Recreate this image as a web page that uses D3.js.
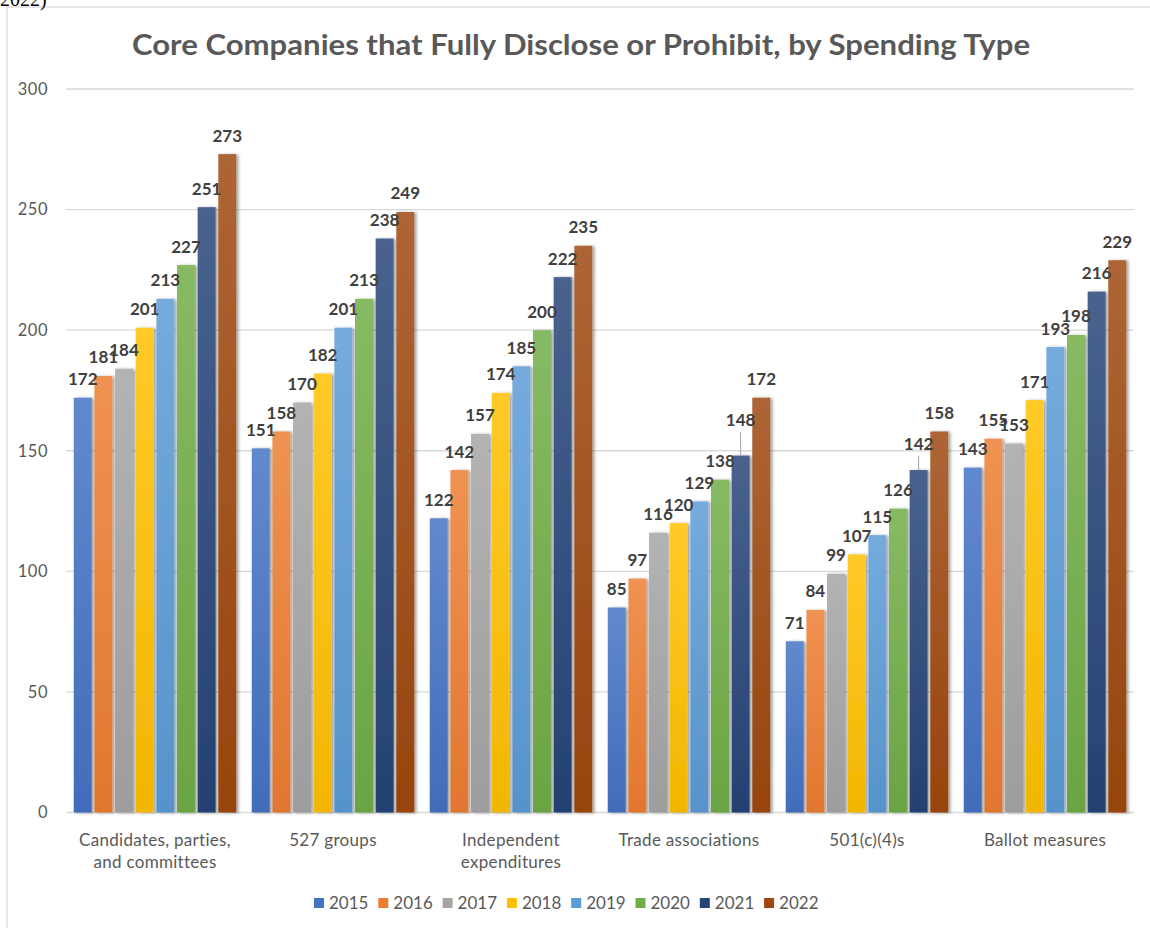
<!DOCTYPE html>
<html>
<head>
<meta charset="utf-8">
<script src="https://cdn.jsdelivr.net/npm/d3@7"></script>
<style>
  html, body { margin: 0; padding: 0; background: #fff; }
  svg { display: block; }
  text { font-family: Lato, "Open Sans", sans-serif; }
</style>
</head>
<body>
<svg id="chart" width="1150" height="928"></svg>
<script>
// Spending types (x-axis groups)
const categories = [
  "Candidates, parties, and committees",
  "527 groups",
  "Independent expenditures",
  "Trade associations",
  "501(c)(4)s",
  "Ballot measures"
];

// Report years (one bar per year within each group)
const years = ["2015", "2016", "2017", "2018", "2019", "2020", "2021", "2022"];

// Companies that fully disclose or prohibit, per year, in category order
const values2015 = [172, 151, 122, 85, 71, 143];
const values2016 = [181, 158, 142, 97, 84, 155];
const values2017 = [184, 170, 157, 116, 99, 153];
const values2018 = [201, 182, 174, 120, 107, 171];
const values2019 = [213, 201, 185, 129, 115, 193];
const values2020 = [227, 213, 200, 138, 126, 198];
const values2021 = [251, 238, 222, 148, 142, 216];
const values2022 = [273, 249, 235, 172, 158, 229];

const yTicks = [0, 50, 100, 150, 200, 250, 300];

const seriesValues = [values2015, values2016, values2017, values2018,
                      values2019, values2020, values2021, values2022];

const colors = ["#4472C4", "#ED7D31", "#A5A5A5", "#FFC000",
                "#5B9BD5", "#70AD47", "#264478", "#9E480E"];

// Labels lifted clear of their neighbours, drawn with a leader line
const labelLift = {
  "Trade associations|2021": 17,
  "501(c)(4)s|2021": 8
};

const svg = d3.select("#chart");
const plot = { left: 66, right: 1134, top: 89, bottom: 812.5 };

// Frame around the chart area
svg.append("rect")
  .attr("x", 7).attr("y", 7).attr("width", 1170).attr("height", 960)
  .attr("fill", "none").attr("stroke", "#d9d9d9").attr("stroke-width", 1.3);

// Caption fragment from the surrounding page
svg.append("text")
  .attr("x", 0).attr("y", 6)
  .style("font-family", "'Liberation Serif', serif")
  .style("font-size", "20px")
  .attr("fill", "#000")
  .text("2022)");

// Gradients and shadow
const defs = svg.append("defs");
colors.forEach((c, i) => {
  const g = defs.append("linearGradient")
    .attr("id", "grad" + i)
    .attr("x1", 0).attr("y1", 0).attr("x2", 0).attr("y2", 1);
  g.append("stop").attr("offset", "0%")
    .attr("stop-color", d3.interpolateRgb(c, "#ffffff")(0.16));
  g.append("stop").attr("offset", "100%")
    .attr("stop-color", d3.interpolateRgb(c, "#000000")(0.05));
});
const shadow = defs.append("filter").attr("id", "shadow")
  .attr("x", "-30%").attr("y", "-10%").attr("width", "170%").attr("height", "120%");
shadow.append("feDropShadow")
  .attr("dx", 2.2).attr("dy", 0.5).attr("stdDeviation", 1.4)
  .attr("flood-color", "#000").attr("flood-opacity", 0.38);

// Scales
const y = d3.scaleLinear().domain([0, 300]).range([plot.bottom, plot.top]);
const x0 = d3.scaleBand().domain(categories).range([plot.left, plot.right]).padding(0);
const groupInset = 7.75;
const x1 = d3.scaleBand().domain(years)
  .range([groupInset, x0.bandwidth() - groupInset])
  .paddingInner(0.13).paddingOuter(0);

// Title
const title = svg.append("text")
  .attr("x", 581).attr("y", 55)
  .attr("text-anchor", "middle")
  .style("font-size", "29px").style("font-weight", 700)
  .attr("fill", "#595959")
  .text("Core Companies that Fully Disclose or Prohibit, by Spending Type");
const tw = title.node().getComputedTextLength();
if (Math.abs(tw - 898) > 4) {
  title.attr("textLength", 898).attr("lengthAdjust", "spacingAndGlyphs");
}

// Gridlines
svg.append("g")
  .selectAll("line")
  .data(yTicks)
  .join("line")
  .attr("x1", plot.left).attr("x2", plot.right)
  .attr("y1", d => y(d)).attr("y2", d => y(d))
  .attr("stroke", "#d9d9d9").attr("stroke-width", 1.4);

// Y axis labels
const yAxis = d3.axisLeft(y).tickValues(yTicks).tickSize(0).tickPadding(0);
const yAxisG = svg.append("g")
  .attr("transform", "translate(48,0)")
  .call(yAxis);
yAxisG.select(".domain").remove();
yAxisG.selectAll("text")
  .style("font-size", "16.5px")
  .style("font-family", "Lato, 'Open Sans', sans-serif")
  .style("letter-spacing", "0.5px")
  .attr("fill", "#595959");

// Bars
const groups = svg.append("g")
  .selectAll("g")
  .data(categories)
  .join("g")
  .attr("transform", d => `translate(${x0(d)},0)`);

const barData = (cat, ci) => years.map((yr, si) => ({
  cat, yr, si, value: seriesValues[si][ci]
}));

groups.selectAll("rect")
  .data((d, ci) => barData(d, ci))
  .join("rect")
  .attr("x", d => x1(d.yr))
  .attr("y", d => y(d.value))
  .attr("width", x1.bandwidth())
  .attr("height", d => y(0) - y(d.value))
  .attr("fill", d => `url(#grad${d.si})`)
  .attr("filter", "url(#shadow)");

// Data labels
const labelGap = 12.5;
groups.each(function (cat, ci) {
  const g = d3.select(this);
  barData(cat, ci).forEach(d => {
    const cx = x1(d.yr) + x1.bandwidth() / 2;
    const top = y(d.value);
    const lift = labelLift[cat + "|" + d.yr] || 0;
    const base = top - labelGap - lift;
    if (lift) {
      g.append("line")
        .attr("x1", cx).attr("x2", cx)
        .attr("y1", base + 6).attr("y2", top)
        .attr("stroke", "#a6a6a6").attr("stroke-width", 1);
    }
    g.append("text")
      .attr("x", cx).attr("y", base)
      .attr("text-anchor", "middle")
      .style("font-size", "17px").style("font-weight", 700)
      .attr("fill", "#404040")
      .text(d.value);
  });
});

// Category labels, wrapped to the group width
const xLabels = svg.append("g");
categories.forEach(cat => {
  const cx = x0(cat) + x0.bandwidth() / 2;
  const t = xLabels.append("text")
    .attr("x", cx)
    .attr("y", 846)
    .attr("text-anchor", "middle")
    .style("font-size", "17px")
    .style("letter-spacing", "0.3px")
    .attr("fill", "#595959");
  const words = cat.split(" ");
  let line = [];
  let tspan = t.append("tspan").attr("x", cx).attr("dy", 0);
  words.forEach(w => {
    line.push(w);
    tspan.text(line.join(" "));
    if (tspan.node().getComputedTextLength() > 168 && line.length > 1) {
      line.pop();
      tspan.text(line.join(" "));
      line = [w];
      tspan = t.append("tspan")
        .attr("x", cx)
        .attr("dy", 21.5)
        .text(w);
    }
  });
});

// Legend
const legend = svg.append("g").attr("transform", "translate(314,898)");
const legendStep = 64.3;
const items = legend.selectAll("g")
  .data(years)
  .join("g")
  .attr("transform", (d, i) => `translate(${i * legendStep},0)`);
items.append("rect")
  .attr("width", 10).attr("height", 10)
  .attr("fill", (d, i) => colors[i]);
items.append("text")
  .attr("x", 15).attr("y", 10.5)
  .style("font-size", "17px")
  .attr("fill", "#595959")
  .text(d => d);
</script>
</body>
</html>
